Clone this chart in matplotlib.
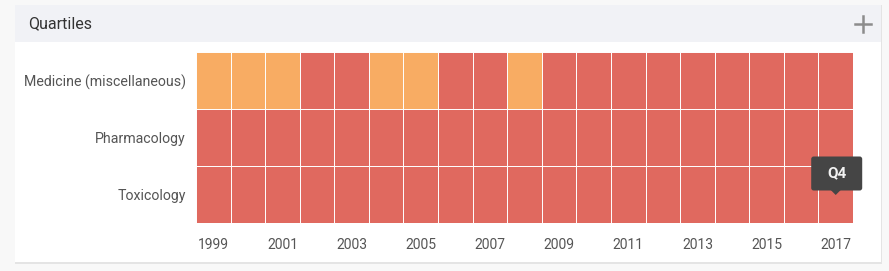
import matplotlib
matplotlib.use("Agg")
import matplotlib.pyplot as plt
import numpy as np
from matplotlib.colors import ListedColormap
from matplotlib.patches import Rectangle, FancyBboxPatch
from matplotlib.lines import Line2D
from matplotlib.transforms import IdentityTransform

plt.rcParams['font.family'] = ['Roboto', 'DejaVu Sans']

# ---- data ----
years = [str(y) for y in range(1999, 2018)]
categories = ["Medicine (miscellaneous)", "Pharmacology", "Toxicology"]
medicine = ["Q3", "Q3", "Q3", "Q4", "Q4", "Q3", "Q3", "Q4", "Q4", "Q3",
            "Q4", "Q4", "Q4", "Q4", "Q4", "Q4", "Q4", "Q4", "Q4"]
pharmacology = ["Q4"] * 19
toxicology = ["Q4"] * 19
quartile_levels = ["Q1", "Q2", "Q3", "Q4"]
quartile_colors = ["#a8d18d", "#e8d559", "#f8ac63", "#e0695f"]
tooltip_label = "Q4"
tooltip_year = "2017"
tooltip_category = "Toxicology"

W, H = 889, 271
fig = plt.figure(figsize=(W / 100, H / 100), dpi=100)
fig.patch.set_facecolor("#f8f8f8")

def fx(px):
    return px / W

def fy(py):
    return 1 - py / H

# card shadow + card
fig.patches.append(Rectangle((fx(15), fy(263.5)), fx(882) - fx(15), fy(5) - fy(263.5),
                             transform=fig.transFigure, facecolor="#e4e4e4", edgecolor="none", zorder=-3))
fig.patches.append(Rectangle((fx(15), fy(262)), fx(881) - fx(15), fy(5) - fy(262),
                             transform=fig.transFigure, facecolor="white", edgecolor="none", zorder=-2))
# header
fig.patches.append(Rectangle((fx(15), fy(42)), fx(881) - fx(15), fy(5) - fy(42),
                             transform=fig.transFigure, facecolor="#f1f2f6", edgecolor="none", zorder=-1))
fig.text(fx(28), fy(23.5), "Quartiles", fontsize=11.5, color="#333333", va="center", ha="left")
# plus icon
fig.lines.append(Line2D([fx(855), fx(871)], [fy(24), fy(24)], transform=fig.transFigure,
                        color="#8c8c8c", linewidth=1.8))
fig.lines.append(Line2D([fx(863), fx(863)], [fy(16), fy(32)], transform=fig.transFigure,
                        color="#8c8c8c", linewidth=1.8))

# heatmap
ax = fig.add_axes([fx(196), fy(223), fx(853) - fx(196), fy(52) - fy(223)])
ax.set_zorder(2)
ax.patch.set_alpha(0)
rows = [medicine, pharmacology, toxicology]
vals = np.array([[quartile_levels.index(q) for q in r] for r in rows])
cmap = ListedColormap(quartile_colors)
ax.pcolormesh(np.arange(len(years) + 1), np.arange(len(categories) + 1), vals,
              cmap=cmap, vmin=-0.5, vmax=3.5, edgecolors="white", linewidth=0.7,
              antialiased=True)
ax.set_xlim(0, len(years))
ax.set_ylim(len(categories), 0)
for s in ax.spines.values():
    s.set_visible(False)
ax.set_yticks(np.arange(len(categories)) + 0.5)
ax.set_yticklabels(categories, fontsize=10.2, color="#555555")
xt = np.arange(0, len(years), 2)
ax.set_xticks(xt + 0.5)
ax.set_xticklabels([years[i] for i in xt], fontsize=10, color="#555555")
ax.tick_params(length=0, axis="y", pad=7.5)
ax.tick_params(length=0, axis="x", pad=10.5)

# tooltip (box drawn in pixel units, anchored to the data cell)
tx = years.index(tooltip_year) + 0.5
ty = categories.index(tooltip_category) + 0.5
cx, cy = ax.transData.transform((tx, ty))
bw, bh = 51, 34
bx, by = cx + 1 - bw / 2, cy + 4
box = FancyBboxPatch((bx, by), bw, bh, boxstyle="round,pad=0,rounding_size=2.5",
                     transform=IdentityTransform(), facecolor="#454545", edgecolor="none",
                     zorder=6, clip_on=False)
ax.add_artist(box)
ax.add_artist(plt.Polygon([[cx - 5, by + 0.5], [cx + 5, by + 0.5], [cx, by - 4.5]],
                          closed=True, transform=IdentityTransform(), facecolor="#454545",
                          edgecolor="none", zorder=6, clip_on=False))
ax.text(bx + bw / 2, by + bh / 2, tooltip_label, transform=IdentityTransform(),
        ha="center", va="center", fontsize=11, color="#f2f2f2", fontweight="bold",
        zorder=7)

fig.savefig("out.png", dpi=100, facecolor=fig.get_facecolor())
